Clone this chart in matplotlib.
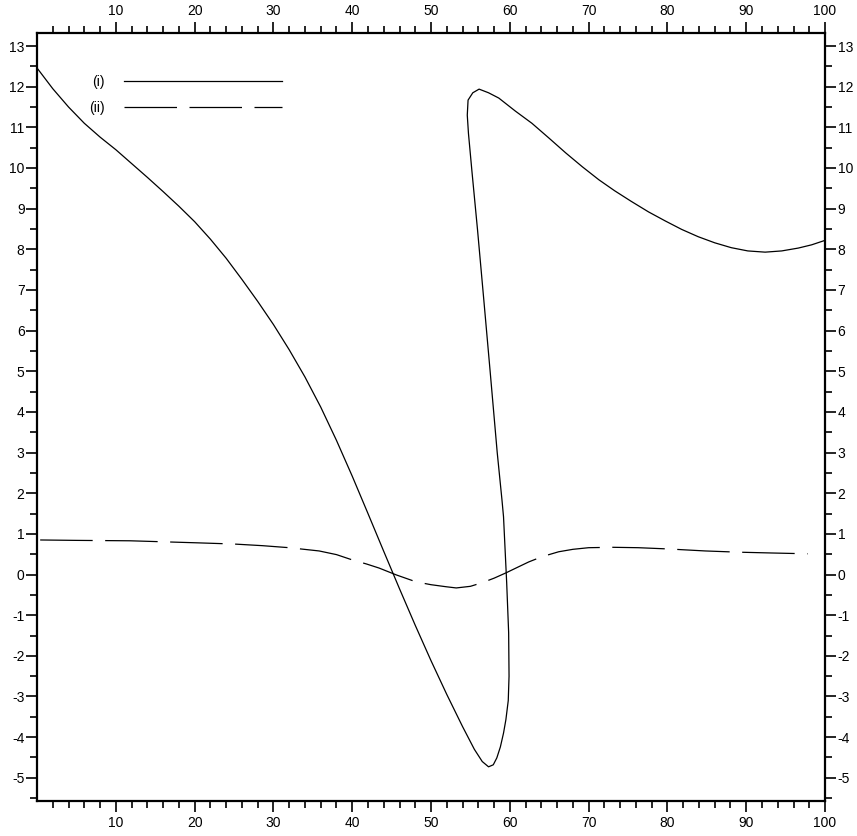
import matplotlib
matplotlib.use("Agg")
import matplotlib.pyplot as plt
from matplotlib.ticker import FixedLocator
from matplotlib.lines import Line2D

plt.rcParams['font.family'] = ['Liberation Sans', 'DejaVu Sans']

# Curve (i): solid, loops back on itself (parametric order)
x_i = [0, 2, 4, 6, 8, 10, 12, 14, 16, 18, 20, 22, 24, 26, 28, 30, 32, 34, 36, 38, 40,
       42, 44, 46, 48, 50, 52, 54, 55.5, 56.5, 57.3, 57.9, 58.35, 58.8, 59.2, 59.5,
       59.8, 59.9, 59.85, 59.6, 59.2, 59.0, 58.4, 57.5, 56.7, 55.9, 55.2, 54.75, 54.6,
       54.7, 55.3, 56.1, 57.3, 58.6, 60.7, 62.8, 65, 67.1, 69.2, 71.3, 73.3, 75.4, 77.6,
       79.7, 81.8, 83.9, 86, 88.1, 90.2, 92.4, 94.5, 96.6, 98.3, 100]
y_i = [12.46, 11.95, 11.5, 11.1, 10.76, 10.45, 10.11, 9.77, 9.42, 9.06, 8.68, 8.25,
       7.78, 7.26, 6.72, 6.15, 5.53, 4.86, 4.12, 3.3, 2.42, 1.5, 0.57, -0.35, -1.25,
       -2.12, -2.95, -3.74, -4.3, -4.6, -4.73, -4.68, -4.51, -4.24, -3.9, -3.57, -3.1,
       -2.5, -1.43, -0.2, 1.42, 1.84, 3.0, 5.0, 6.75, 8.48, 9.9, 10.85, 11.3, 11.67,
       11.85, 11.94, 11.85, 11.72, 11.4, 11.1, 10.73, 10.37, 10.03, 9.71, 9.44, 9.18,
       8.92, 8.7, 8.49, 8.31, 8.16, 8.04, 7.96, 7.93, 7.96, 8.03, 8.11, 8.22]

# Curve (ii): dashed
x_ii = [0.4, 5, 11.8, 20.3, 25, 28.6, 32, 35.8, 38, 40.0, 41.8, 43.4, 45.6, 48.1, 50,
        51.9, 53.2, 55, 56.5, 58, 59.5, 61, 62.4, 64.1, 66.2, 68, 70.0, 73, 76.3, 80,
        84.8, 89, 93.2, 97.8]
y_ii = [0.85, 0.84, 0.83, 0.78, 0.75, 0.71, 0.66, 0.58, 0.49, 0.36, 0.26, 0.16, -0.01,
        -0.18, -0.25, -0.30, -0.33, -0.29, -0.20, -0.09, 0.04, 0.18, 0.31, 0.44, 0.56,
        0.62, 0.66, 0.67, 0.66, 0.63, 0.58, 0.55, 0.53, 0.51]

labels = ["(i)", "(ii)"]
x_major = [10, 20, 30, 40, 50, 60, 70, 80, 90, 100]
y_major = list(range(-5, 14))

fig = plt.figure(figsize=(8.57, 8.36), dpi=100)
ax = fig.add_axes([0.0432, 0.0419, 0.9195, 0.9186])

ax.plot(x_i, y_i, color='black', lw=0.9)
ax.plot(x_ii, y_ii, color='black', lw=0.9, dashes=(42, 10))

ax.set_xlim(0, 100)
ax.set_ylim(-5.57, 13.32)

ax.xaxis.set_major_locator(FixedLocator(x_major))
ax.xaxis.set_minor_locator(FixedLocator([v for v in range(2, 100, 2) if v % 10 != 0]))
ax.yaxis.set_major_locator(FixedLocator(y_major))
ax.yaxis.set_minor_locator(FixedLocator([v + 0.5 for v in range(-6, 13)]))
ax.set_xticklabels([str(v) for v in x_major])
ax.set_yticklabels([str(v) for v in y_major])

ax.tick_params(which='both', direction='out', top=True, right=True,
               labeltop=True, labelright=True, labelsize=10, width=1.2, pad=1)
ax.tick_params(axis='x', which='both', pad=3)
ax.tick_params(which='major', length=8)
ax.tick_params(which='minor', length=5)
for s in ax.spines.values():
    s.set_linewidth(1.6)

handles = [Line2D([], [], color='black', lw=0.9),
           Line2D([], [], color='black', lw=0.9, dashes=(42, 10))]
ax.legend(handles, labels, loc='upper left', bbox_to_anchor=(0.066, 0.945),
          frameon=False, markerfirst=False, handlelength=11.4, handletextpad=1.4,
          borderpad=0, borderaxespad=0, labelspacing=0.85, fontsize=10)

fig.savefig("out.png", dpi=100)
